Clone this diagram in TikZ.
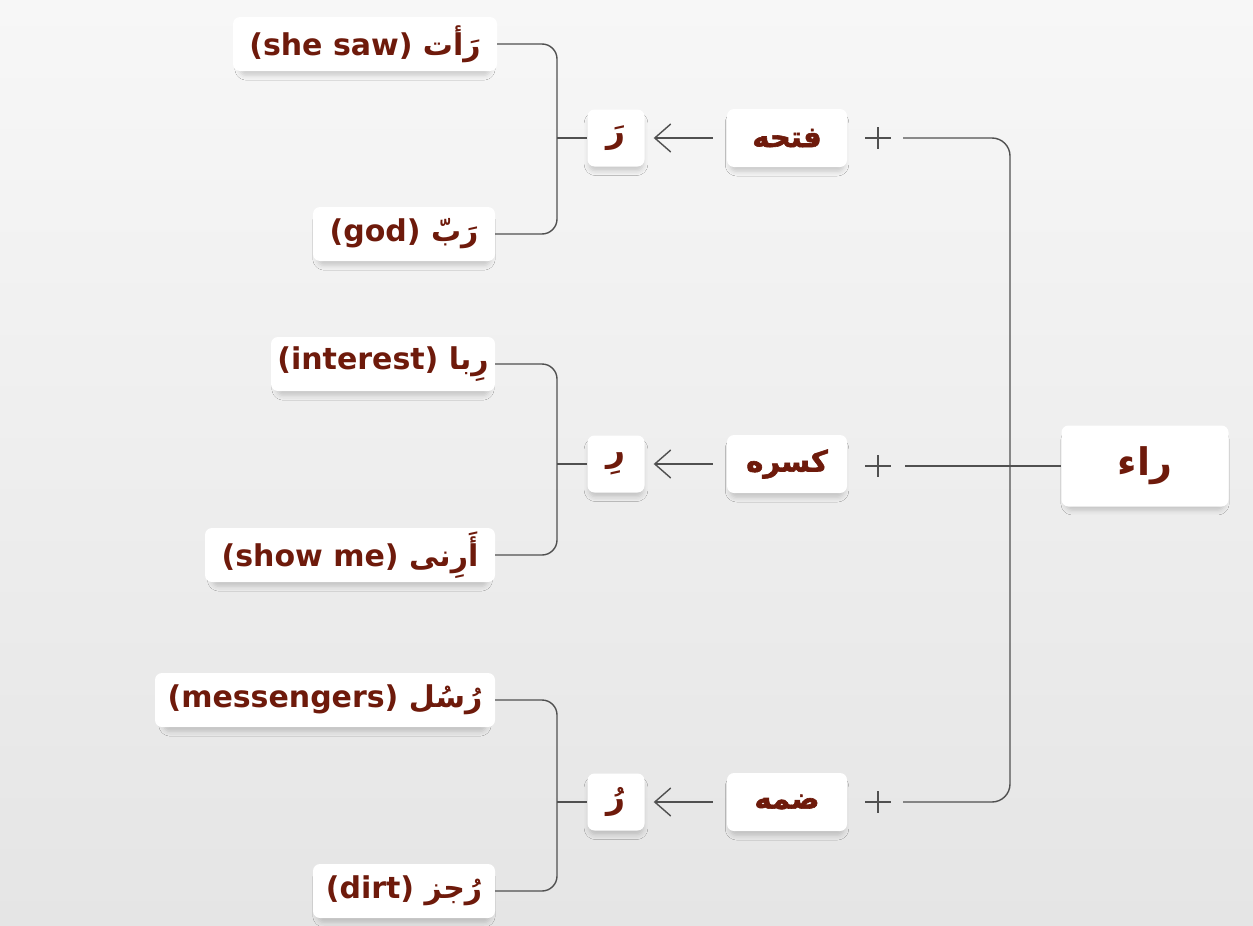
\documentclass[tikz,border=0pt]{standalone}
\usepackage{fontspec}
\setmainfont{DejaVu Sans}
\newfontfamily\arfont[Script=Arabic]{DejaVu Sans}
\newfontfamily\arheavy[Script=Arabic, FakeBold=2]{DejaVu Sans Bold}
\TeXXeTstate=1
\usetikzlibrary{arrows.meta,shadows.blur}
\definecolor{txt}{HTML}{6E1A0B}
\definecolor{ln}{HTML}{505050}
\definecolor{bgA}{HTML}{F7F7F7}
\definecolor{bgB}{HTML}{E5E5E5}
\newcommand{\arw}[1]{{\arfont\beginR #1\endR}}
\newcommand{\arh}[1]{{\arheavy\beginR #1\endR}}
\begin{document}
\begin{tikzpicture}[x=1pt,y=-1pt,
  card/.style={fill=white, rounded corners=7, inner sep=0, text=txt,
    blur shadow={shadow xshift=0pt, shadow yshift=-6pt, shadow blur radius=5pt, shadow opacity=18, shadow scale=0.95}},
  leaf/.style={card, minimum height=54, font=\bfseries\fontsize{30}{36}\selectfont},
  diac/.style={card, minimum width=57, minimum height=57, font=\bfseries\fontsize{33}{36}\selectfont},
  head/.style={card, minimum width=120, minimum height=58, font=\fontsize{29}{36}\selectfont},
  root/.style={card, minimum width=167, minimum height=81, font=\bfseries\fontsize{38}{44}\selectfont},
  plus/.style={minimum width=26, minimum height=22, inner sep=0,
    path picture={\draw[ln, line width=1.3pt] (path picture bounding box.west) -- (path picture bounding box.east)
      (path picture bounding box.north) -- (path picture bounding box.south);}},
  conn/.style={draw=ln, line width=1.4pt},
  arr/.style={conn, -{Straight Barb[length=16pt,width=28pt,line width=1.4pt]}}
]
% background
\shade[shading angle=-45, top color=bgA, bottom color=bgB] (0,0) rectangle (1253,926);
\useasboundingbox (0,0) rectangle (1253,926);

% leaf cards
\node[leaf, minimum width=264] (a1) at (365,44) {(she saw)\ \arw{رَأت}};
\node[leaf, minimum width=182] (a2) at (404,234) {(god)\ \arw{رَبّ}};
\node[leaf, minimum width=224] (b1) at (383,364) {(interest)\ \arw{رِبا}};
\node[leaf, minimum width=290] (b2) at (350,555) {(show me)\ \arw{أَرِنی}};
\node[leaf, minimum width=340] (c1) at (325,700) {(messengers)\ \arw{رُسُل}};
\node[leaf, minimum width=182] (c2) at (404,891) {(dirt)\ \arw{رُجز}};

% diacritic cards
\node[diac] (r1) at (616,138) {\arw{رَ}};
\node[diac] (r2) at (616,464) {\arw{رِ}};
\node[diac] (r3) at (616,802) {\arw{رُ}};

% heading cards
\node[head] (h1) at (787,138) {\arh{فتحه}};
\node[head] (h2) at (787,464) {\arh{کسره}};
\node[head] (h3) at (787,802) {\arh{ضمه}};

% plus signs
\node[plus] (p1) at (878,138) {};
\node[plus] (p2) at (878,466) {};
\node[plus] (p3) at (878,802) {};

% root
\node[root] (raa) at (1145,466) {\arw{راء}};

% junction coordinates
\coordinate (ja) at (557,138);
\coordinate (jb) at (557,464);
\coordinate (jc) at (557,802);
\coordinate (jr) at (1010,466);

% left brackets
\draw[conn, rounded corners=15] (a1.east) -| (ja) |- (a2.east);
\draw[conn] (ja) -- (r1.west);
\draw[conn, rounded corners=15] (b1.east) -| (jb) |- (b2.east);
\draw[conn] (jb) -- (r2.west);
\draw[conn, rounded corners=15] (c1.east) -| (jc) |- (c2.east);
\draw[conn] (jc) -- (r3.west);

% arrows
\draw[arr] ([xshift=-14pt]h1.west) -- ([xshift=9pt]r1.east);
\draw[arr] ([xshift=-14pt]h2.west) -- ([xshift=9pt]r2.east);
\draw[arr] ([xshift=-14pt]h3.west) -- ([xshift=9pt]r3.east);

% right bracket
\draw[conn, rounded corners=18] ([xshift=12pt]p1.east) -| (jr) |- ([xshift=12pt]p3.east);
\draw[conn] ([xshift=14pt]p2.east) -- (raa.west);
\end{tikzpicture}
\end{document}
